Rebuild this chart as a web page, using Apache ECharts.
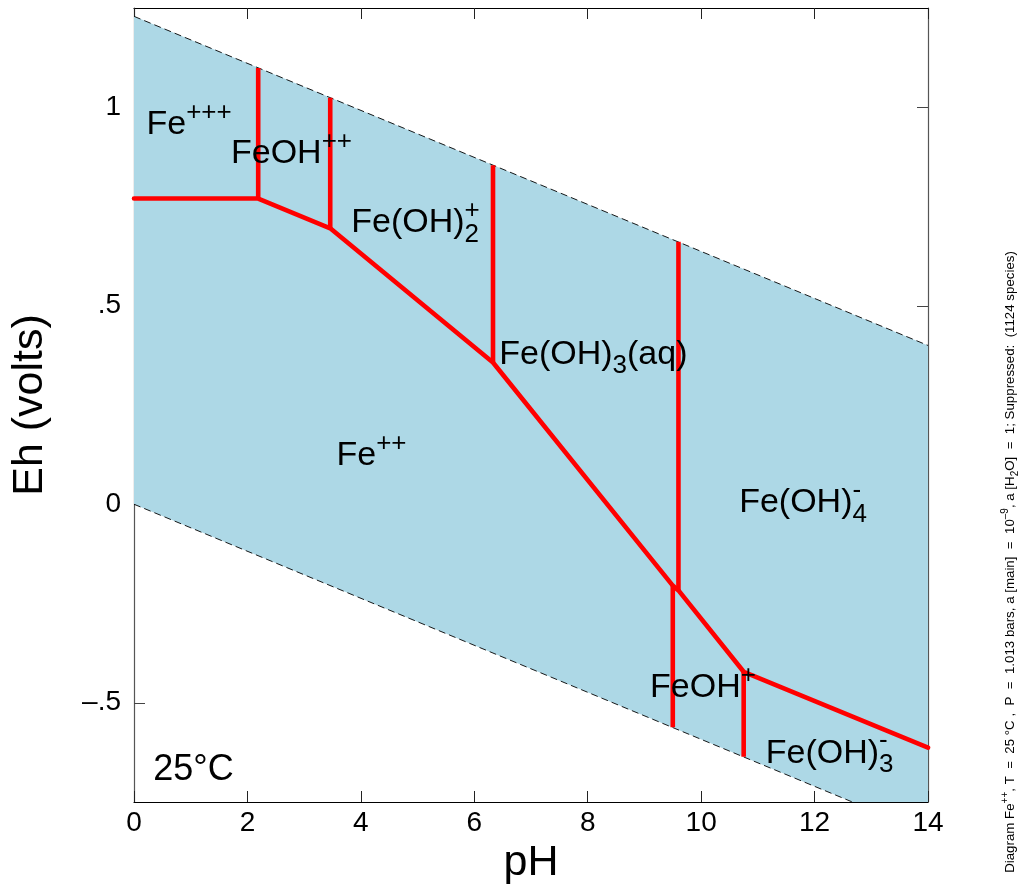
<!DOCTYPE html>
<html>
<head>
<meta charset="utf-8">
<script src="https://cdn.jsdelivr.net/npm/echarts@6/dist/echarts.min.js"></script>
<style>
html,body{margin:0;padding:0;background:#fff;}
#chart{width:1019px;height:892px;}
</style>
</head>
<body>
<div id="chart"></div>
<script>
// ---------- data ----------
const xTicks = [0, 2, 4, 6, 8, 10, 12, 14];
const yTickValues = [-0.5, 0, 0.5, 1];
const yTickLabels = ['\u2013.5', '0', '.5', '1'];

// water stability limits (pH, Eh)
const waterPH = [0, 14];
const waterUpperEh = [1.229, 0.400];
const waterLowerEh = [0, -0.829];

// main predominance boundary (pH, Eh)
const mainBoundaryPH = [0, 2.19, 3.46, 6.33, 9.50, 9.60, 10.75, 14];
const mainBoundaryEh = [0.770, 0.770, 0.695, 0.357, -0.205, -0.217, -0.422, -0.613];

// vertical boundaries: pH, Eh from, Eh to
const vertPH = [2.19, 3.46, 6.33, 9.60, 9.50, 10.75];
const vertEhFrom = [0.770, 0.695, 0.357, -0.217, -0.205, -0.422];
const vertEhTo = [1.099, 1.024, 0.854, 0.661, -0.562, -0.636];

// field labels
const labelPH = [0.22, 1.71, 3.83, 6.44, 3.57, 10.67, 9.10, 11.14, 0.34];
const labelEh = [0.955, 0.882, 0.709, 0.378, 0.122, 0.003, -0.463, -0.627, -0.67];
const labelText = [
  '{m|Fe}{sup|+++}',
  '{m|FeOH}{sup|++}',
  '{m|Fe(OH)}{sub|2}',
  '{m|Fe(OH)}{sub|3}{m|(aq)}',
  '{m|Fe}{sup|++}',
  '{m|Fe(OH)}{sub|4}',
  '{m|FeOH}{sup|+}',
  '{m|Fe(OH)}{sub|3}',
  '{t|25\u00B0C}'
];
// charges stacked above subscripts (same anchors as labels 2, 5, 7)
const stackedIdx = [2, 5, 7];
const stackedText = ['{h|Fe(OH)}{sup|+}', '{h|Fe(OH)}{sup|-}', '{h|Fe(OH)}{sup|-}'];

// ---------- chart ----------
const FONT = '"Liberation Sans", Arial, Helvetica, sans-serif';
const chart = echarts.init(document.getElementById('chart'), null, {renderer: 'canvas'});

const richStyles = {
  m: {fontSize: 34, lineHeight: 50, verticalAlign: 'middle', color: '#000', fontFamily: FONT},
  h: {fontSize: 34, lineHeight: 50, verticalAlign: 'middle', color: 'rgba(0,0,0,0)', fontFamily: FONT},
  sup: {fontSize: 26, lineHeight: 25, verticalAlign: 'top', color: '#000', fontFamily: FONT},
  sub: {fontSize: 26, lineHeight: 25, verticalAlign: 'bottom', color: '#000', fontFamily: FONT},
  t: {fontSize: 36, lineHeight: 50, verticalAlign: 'middle', color: '#000', fontFamily: FONT}
};

const series = [];

// light-blue water stability field
series.push({
  type: 'custom',
  clip: true,
  silent: true,
  z: 1,
  data: [[0, 0]],
  renderItem: function (params, api) {
    const pts = [];
    for (let i = 0; i < waterPH.length; i++) pts.push(api.coord([waterPH[i], waterUpperEh[i]]));
    for (let i = waterPH.length - 1; i >= 0; i--) pts.push(api.coord([waterPH[i], waterLowerEh[i]]));
    return {type: 'polygon', shape: {points: pts}, style: {fill: '#ADD8E6'}};
  }
});

// dashed water lines
[waterUpperEh, waterLowerEh].forEach(function (arr) {
  series.push({
    type: 'line', z: 2, silent: true, symbol: 'none', clip: true,
    data: waterPH.map(function (x, i) { return [x, arr[i]]; }),
    lineStyle: {color: '#000', width: 0.9, type: [7, 4]}
  });
});

// red boundaries
series.push({
  type: 'line', z: 3, silent: true, symbol: 'none', clip: true,
  data: mainBoundaryPH.map(function (x, i) { return [x, mainBoundaryEh[i]]; }),
  lineStyle: {color: '#FF0000', width: 4.6, join: 'round', cap: 'round'}
});
vertPH.forEach(function (x, i) {
  series.push({
    type: 'line', z: 3, silent: true, symbol: 'none', clip: true,
    data: [[x, vertEhFrom[i]], [x, vertEhTo[i]]],
    lineStyle: {color: '#FF0000', width: 4.6, cap: 'butt'}
  });
});

// labels
const labelData = labelPH.map(function (x, i) {
  return {value: [x, labelEh[i]], label: {formatter: labelText[i]}};
});
stackedIdx.forEach(function (idx, k) {
  labelData.push({value: [labelPH[idx], labelEh[idx]], label: {formatter: stackedText[k]}});
});
series.push({
  type: 'scatter', z: 5, silent: true, symbolSize: 0,
  data: labelData,
  itemStyle: {opacity: 1},
  label: {show: true, position: 'right', distance: 0, color: '#000', rich: richStyles}
});

const axisLabelFont = {fontSize: 28, color: '#000', fontFamily: FONT};

chart.setOption({
  animation: false,
  backgroundColor: '#fff',
  textStyle: {fontFamily: FONT},
  grid: {left: 134, right: 91, top: 8, bottom: 90, containLabel: false},
  xAxis: [{
    type: 'value', position: 'bottom', min: 0, max: 14, interval: 2,
    name: 'pH', nameLocation: 'middle', nameGap: 38,
    nameTextStyle: {fontSize: 43, color: '#000', fontFamily: FONT},
    axisLine: {show: true, onZero: false, lineStyle: {color: '#000', width: 1.2}},
    axisTick: {show: true, inside: true, length: 11, lineStyle: {color: '#222', width: 1}},
    axisLabel: Object.assign({margin: 7}, axisLabelFont),
    splitLine: {show: false}
  }, {
    type: 'value', position: 'top', min: 0, max: 14, interval: 2,
    axisLine: {show: true, onZero: false, lineStyle: {color: '#000', width: 1.2}},
    axisTick: {show: true, inside: true, length: 11, lineStyle: {color: '#222', width: 1}},
    axisLabel: {show: false},
    splitLine: {show: false}
  }],
  yAxis: [{
    type: 'value', position: 'left', min: -0.75, max: 1.25,
    name: 'Eh (volts)', nameLocation: 'middle', nameGap: 82, nameRotate: 90,
    nameTextStyle: {fontSize: 43, color: '#000', fontFamily: FONT},
    axisLine: {show: true, onZero: false, lineStyle: {color: '#555', width: 1.2}},
    axisTick: {show: true, inside: true, length: 11, customValues: yTickValues, lineStyle: {color: '#444', width: 1}},
    axisLabel: Object.assign({
      margin: 13,
      customValues: yTickValues,
      formatter: function (v) {
        for (let i = 0; i < yTickValues.length; i++) if (Math.abs(yTickValues[i] - v) < 1e-6) return yTickLabels[i];
        return '';
      }
    }, axisLabelFont),
    splitLine: {show: false}
  }, {
    type: 'value', position: 'right', min: -0.75, max: 1.25,
    axisLine: {show: true, onZero: false, lineStyle: {color: '#555', width: 1.2}},
    axisTick: {show: true, inside: true, length: 11, customValues: yTickValues, lineStyle: {color: '#444', width: 1}},
    axisLabel: {show: false, customValues: yTickValues},
    splitLine: {show: false}
  }],
  series: series,
  graphic: [{
    type: 'text',
    x: 1010, y: 562,
    rotation: Math.PI / 2,
    silent: true,
    style: {
      text: '{n|Diagram Fe}{s|++}{n|, T  =  25 \u00B0C ,  P  =  1.013 bars, a [main]  =  10}{s|\u20139}{n|, a [H}{b|2}{n|O]  =  1; Suppressed:  (1124 species)}',
      align: 'center',
      verticalAlign: 'middle',
      rich: {
        n: {fontSize: 13.3, lineHeight: 20, verticalAlign: 'middle', fill: '#000', fontFamily: FONT},
        s: {fontSize: 10, lineHeight: 10, verticalAlign: 'top', fill: '#000', fontFamily: FONT},
        b: {fontSize: 10, lineHeight: 10, verticalAlign: 'bottom', fill: '#000', fontFamily: FONT}
      }
    }
  }]
});
</script>
</body>
</html>
